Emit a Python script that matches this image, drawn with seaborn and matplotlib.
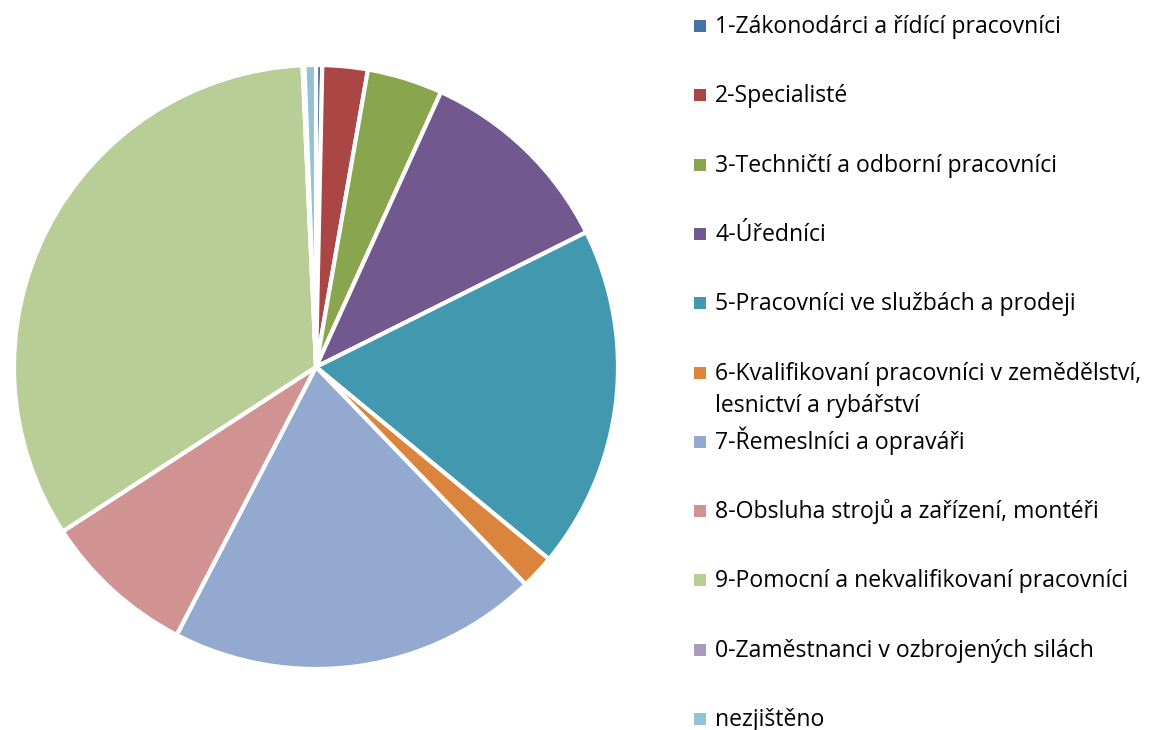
import matplotlib
matplotlib.use("Agg")
import matplotlib.pyplot as plt
from matplotlib.patches import Rectangle
import seaborn as sns

# Share of workers by occupation class (CZ-ISCO major groups), percent
categories = [
    "1-Zákonodárci a řídící pracovníci",
    "2-Specialisté",
    "3-Techničtí a odborní pracovníci",
    "4-Úředníci",
    "5-Pracovníci ve službách a prodeji",
    "6-Kvalifikovaní pracovníci v zemědělství,\nlesnictví a rybářství",
    "7-Řemeslníci a opraváři",
    "8-Obsluha strojů a zařízení, montéři",
    "9-Pomocní a nekvalifikovaní pracovníci",
    "0-Zaměstnanci v ozbrojených silách",
    "nezjištěno",
]
shares = [0.33, 2.42, 4.03, 10.83, 18.31, 1.81, 19.81, 8.19, 33.40, 0.10, 0.61]
colors = [
    "#4572A7", "#AA4643", "#89A54E", "#71588F", "#4198AF", "#DB843D",
    "#93A9CF", "#D19392", "#B9CD96", "#A99BBD", "#92C3D5",
]

sns.set_theme(style="white")
plt.rcParams["font.family"] = ["Open Sans", "DejaVu Sans"]
palette = sns.color_palette(colors)

W, H = 1154, 730
fig = plt.figure(figsize=(W / 100, H / 100), dpi=100)

# pie: centre (316, 367) px, radius 302 px
cx, cy, r = 316, 367, 302
ax = fig.add_axes([(cx - r) / W, (H - cy - r) / H, 2 * r / W, 2 * r / H])
wedges, _ = ax.pie(
    shares,
    colors=palette,
    startangle=90,
    counterclock=False,
    radius=1.0,
    wedgeprops=dict(edgecolor="white", linewidth=3, antialiased=True),
)
for w in wedges:
    w.set_clip_on(False)
ax.set_xlim(-1.0, 1.0)
ax.set_ylim(-1.0, 1.0)
ax.set_aspect("equal")
ax.axis("off")

# legend drawn as coloured squares with labels, one row every ~69.3 px
y0, step, sq = 26, 69.3, 12
for i, (lab, col) in enumerate(zip(categories, palette)):
    yc = y0 + i * step
    fig.patches.append(
        Rectangle((694 / W, (H - yc - sq / 2) / H), sq / W, sq / H,
                  transform=fig.transFigure, facecolor=col, edgecolor="none")
    )
    for j, ln in enumerate(lab.split("\n")):
        fig.text(715 / W, (H - yc - 7 - j * 32) / H, ln, fontsize=16.6,
                 color="#000000", va="baseline", ha="left")

fig.savefig("out.png", dpi=100, facecolor="white")
